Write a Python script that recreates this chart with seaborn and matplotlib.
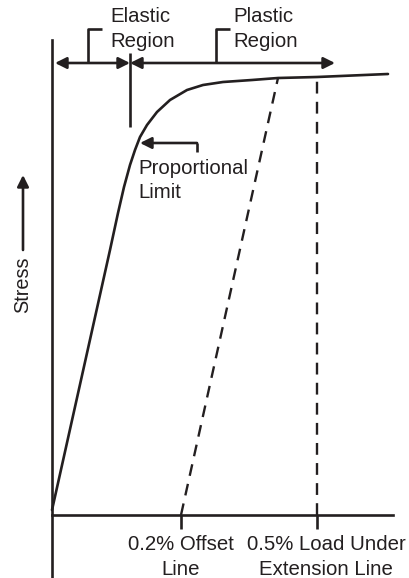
import matplotlib
matplotlib.use("Agg")
import matplotlib.pyplot as plt
import seaborn as sns
import pandas as pd

sns.set_theme(style="white")
plt.rcParams["font.family"] = ["Liberation Sans", "DejaVu Sans"]

INK = "#231f20"

# Stress-strain curve (arbitrary schematic units, origin at the axes crossing)
strain = [0, 58, 66, 72, 78, 83, 88, 95, 105, 118, 135, 151, 171, 200, 226, 265, 336]
stress = [5, 265, 302, 328, 350, 365, 378, 390, 403, 415, 425, 430, 433, 435, 437, 438, 441]

# 0.2% offset line and 0.5% load-under-extension line
offset_strain = [129, 226]
offset_stress = [0, 437]
ext_strain = [265, 265]
ext_stress = [0, 438]

bottom_labels = [["0.2% Offset", "Line"], ["0.5% Load Under", "Extension Line"]]
bottom_label_x = [129, 274]
tick_x = [129, 265]

curve = pd.DataFrame({"strain": strain, "stress": stress})
offset = pd.DataFrame({"strain": offset_strain, "stress": offset_stress})
ext = pd.DataFrame({"strain": ext_strain, "stress": ext_stress})

fig = plt.figure(figsize=(4.10, 5.78), dpi=100)
ax = fig.add_axes([0, 0, 1, 1])

lw = 1.9
sns.lineplot(data=curve, x="strain", y="stress", ax=ax, color=INK, lw=lw,
             sort=False, estimator=None)
sns.lineplot(data=offset, x="strain", y="stress", ax=ax, color=INK, lw=1.7,
             sort=False, estimator=None, linestyle=(0, (5, 3.5)))
sns.lineplot(data=ext, x="strain", y="stress", ax=ax, color=INK, lw=1.7,
             sort=False, estimator=None, linestyle=(0, (5, 3.5)))

ax.set_xlim(-52, 358)
ax.set_ylim(-63, 515)

# axis lines
for side in ["top", "right"]:
    ax.spines[side].set_visible(False)
ax.spines["left"].set_position(("data", 0))
ax.spines["bottom"].set_position(("data", 0))
ax.spines["left"].set_bounds(-63, 475)
ax.spines["bottom"].set_bounds(0, 341)
for side in ["left", "bottom"]:
    ax.spines[side].set_color(INK)
    ax.spines[side].set_linewidth(lw)
ax.set_xticks([])
ax.set_yticks([])
ax.set_xlabel("")
ax.set_ylabel("")
ax.patch.set_alpha(0)

# tick marks at the two lines
for xv in tick_x:
    ax.plot([xv, xv], [0, -14], color=INK, lw=lw, solid_capstyle="butt")

fs = 14.7
for xv, lines in zip(bottom_label_x, bottom_labels):
    for yb, line in zip([-35, -60], lines):
        ax.text(xv, yb, line, ha="center", va="baseline", fontsize=fs, color=INK)

# Elastic / plastic region arrows
arrow_kw = dict(arrowstyle="<|-|>", color=INK, lw=lw, mutation_scale=17,
                shrinkA=0, shrinkB=0)
ax.annotate("", xy=(3, 452), xytext=(78, 452), arrowprops=arrow_kw)
ax.annotate("", xy=(78, 452), xytext=(283, 452), arrowprops=arrow_kw)
ax.plot([78, 78], [462, 388], color=INK, lw=lw, solid_capstyle="butt")

# brackets
ax.plot([36, 36, 50], [452, 486, 486], color=INK, lw=lw, solid_capstyle="butt")
ax.plot([164, 164, 178], [452, 486, 486], color=INK, lw=lw, solid_capstyle="butt")
for xl, word in [(58, "Elastic"), (181, "Plastic")]:
    ax.text(xl, 493, word, ha="left", va="baseline", fontsize=fs, color=INK)
    ax.text(xl, 468, "Region", ha="left", va="baseline", fontsize=fs, color=INK)

# Proportional limit
ax.annotate("", xy=(88, 372), xytext=(145, 372),
            arrowprops=dict(arrowstyle="-|>", color=INK, lw=lw,
                            mutation_scale=17, shrinkA=0, shrinkB=0))
ax.plot([145, 145], [372, 363], color=INK, lw=lw, solid_capstyle="butt")
ax.text(86, 341, "Proportional", ha="left", va="baseline", fontsize=fs, color=INK)
ax.text(86, 317, "Limit", ha="left", va="baseline", fontsize=fs, color=INK)

# Stress label with arrow
ax.text(-29, 230, "Stress", rotation=90, ha="center", va="center",
        fontsize=14.3, color=INK)
ax.annotate("", xy=(-29, 340), xytext=(-29, 265),
            arrowprops=dict(arrowstyle="-|>", color=INK, lw=lw,
                            mutation_scale=17, shrinkA=0, shrinkB=0))

fig.savefig("out.png", dpi=100)
